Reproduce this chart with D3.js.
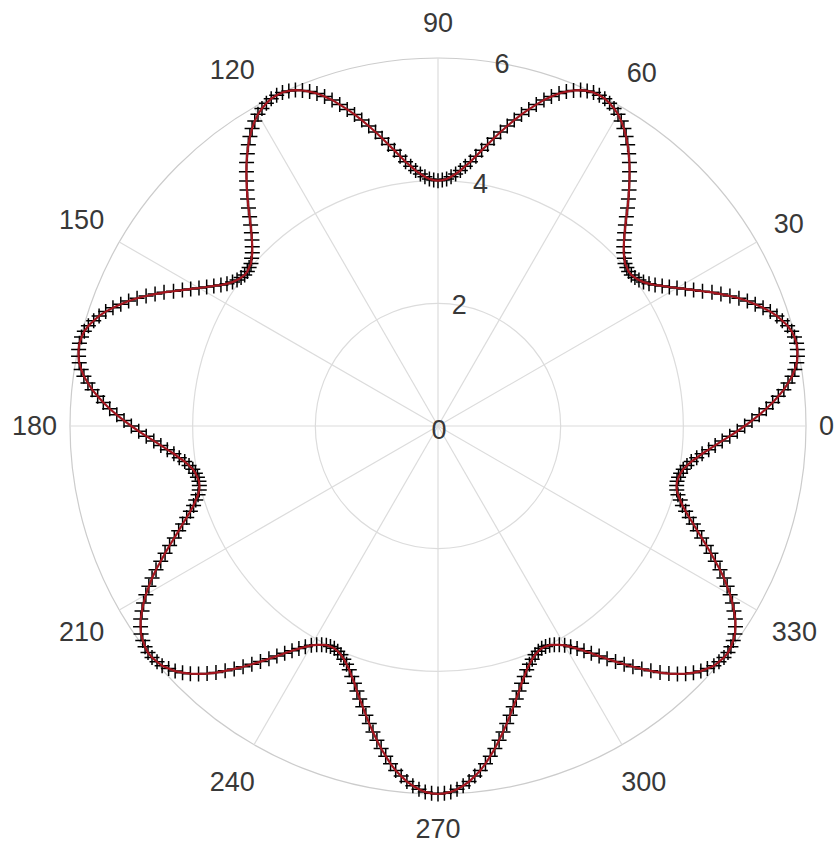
<!DOCTYPE html>
<html>
<head>
<meta charset="utf-8">
<script src="https://cdn.jsdelivr.net/npm/d3@7"></script>
<style>
  body { margin: 0; background: #fff; }
  text { font-family: "Liberation Sans", Arial, sans-serif; fill: #383838; }
</style>
</head>
<body>
<div id="main"></div>
<script>
// angle ticks (degrees) and radial ticks
const thetaTicks = [0, 30, 60, 90, 120, 150, 180, 210, 240, 270, 300, 330];
const rTicks = [0, 2, 4, 6];

// sample angles, one per degree, and the radius read at each one
const thetaDeg = d3.range(0, 360, 1);
const rho = [
  5.00, 5.12, 5.24, 5.36, 5.47, 5.57, 5.67, 5.75, 5.83, 5.89, 5.94, 5.97, 5.99, 6.00, 5.99, 5.97, 5.93, 5.87, 5.81, 5.73,
  5.64, 5.54, 5.44, 5.33, 5.21, 5.09, 4.97, 4.84, 4.72, 4.61, 4.50, 4.40, 4.31, 4.22, 4.15, 4.09, 4.05, 4.02, 4.00, 4.00,
  4.02, 4.04, 4.09, 4.14, 4.21, 4.29, 4.38, 4.48, 4.59, 4.71, 4.83, 4.95, 5.07, 5.19, 5.31, 5.42, 5.53, 5.63, 5.72, 5.80,
  5.87, 5.92, 5.96, 5.99, 6.00, 6.00, 5.98, 5.95, 5.90, 5.84, 5.77, 5.68, 5.59, 5.48, 5.37, 5.26, 5.14, 5.02, 4.90, 4.78,
  4.66, 4.55, 4.44, 4.34, 4.26, 4.18, 4.12, 4.07, 4.03, 4.01, 4.00, 4.01, 4.03, 4.07, 4.12, 4.18, 4.26, 4.34, 4.44, 4.55,
  4.66, 4.78, 4.90, 5.02, 5.14, 5.26, 5.37, 5.48, 5.59, 5.68, 5.77, 5.84, 5.90, 5.95, 5.98, 6.00, 6.00, 5.99, 5.96, 5.92,
  5.87, 5.80, 5.72, 5.63, 5.53, 5.42, 5.31, 5.19, 5.07, 4.95, 4.83, 4.71, 4.59, 4.48, 4.38, 4.29, 4.21, 4.14, 4.09, 4.04,
  4.02, 4.00, 4.00, 4.02, 4.05, 4.09, 4.15, 4.22, 4.31, 4.40, 4.50, 4.61, 4.72, 4.84, 4.97, 5.09, 5.21, 5.33, 5.44, 5.54,
  5.64, 5.73, 5.81, 5.87, 5.93, 5.97, 5.99, 6.00, 5.99, 5.97, 5.94, 5.89, 5.83, 5.75, 5.67, 5.57, 5.47, 5.36, 5.24, 5.12,
  5.00, 4.88, 4.76, 4.64, 4.53, 4.43, 4.33, 4.25, 4.17, 4.11, 4.06, 4.03, 4.01, 4.00, 4.01, 4.03, 4.07, 4.13, 4.19, 4.27,
  4.36, 4.46, 4.56, 4.67, 4.79, 4.91, 5.03, 5.16, 5.28, 5.39, 5.50, 5.60, 5.69, 5.78, 5.85, 5.91, 5.95, 5.98, 6.00, 6.00,
  5.98, 5.96, 5.91, 5.86, 5.79, 5.71, 5.62, 5.52, 5.41, 5.29, 5.17, 5.05, 4.93, 4.81, 4.69, 4.58, 4.47, 4.37, 4.28, 4.20,
  4.13, 4.08, 4.04, 4.01, 4.00, 4.00, 4.02, 4.05, 4.10, 4.16, 4.23, 4.32, 4.41, 4.52, 4.63, 4.74, 4.86, 4.98, 5.10, 5.22,
  5.34, 5.45, 5.56, 5.66, 5.74, 5.82, 5.88, 5.93, 5.97, 5.99, 6.00, 5.99, 5.97, 5.93, 5.88, 5.82, 5.74, 5.66, 5.56, 5.45,
  5.34, 5.22, 5.10, 4.98, 4.86, 4.74, 4.63, 4.52, 4.41, 4.32, 4.23, 4.16, 4.10, 4.05, 4.02, 4.00, 4.00, 4.01, 4.04, 4.08,
  4.13, 4.20, 4.28, 4.37, 4.47, 4.58, 4.69, 4.81, 4.93, 5.05, 5.17, 5.29, 5.41, 5.52, 5.62, 5.71, 5.79, 5.86, 5.91, 5.96,
  5.98, 6.00, 6.00, 5.98, 5.95, 5.91, 5.85, 5.78, 5.69, 5.60, 5.50, 5.39, 5.28, 5.16, 5.03, 4.91, 4.79, 4.67, 4.56, 4.46,
  4.36, 4.27, 4.19, 4.13, 4.07, 4.03, 4.01, 4.00, 4.01, 4.03, 4.06, 4.11, 4.17, 4.25, 4.33, 4.43, 4.53, 4.64, 4.76, 4.88
];

const W = 836, H = 848;
const cx = 438, cy = 426, R = 368;

const svg = d3.select('#main').append('svg')
  .attr('width', W)
  .attr('height', H);

const rScale = d3.scaleLinear().domain([0, 6]).range([0, R]);
const rad = d => d * Math.PI / 180;

const g = svg.append('g').attr('transform', 'translate(' + cx + ',' + cy + ')');

// grid circles
g.selectAll('circle.grid')
  .data(rTicks.filter(d => d > 0))
  .enter()
  .append('circle')
  .attr('class', 'grid')
  .attr('r', d => rScale(d))
  .attr('fill', 'none')
  .attr('stroke', d => d === 6 ? '#cccccc' : '#dcdcdc')
  .attr('stroke-width', 1.2);

// spokes
g.selectAll('line.spoke')
  .data(thetaTicks)
  .enter()
  .append('line')
  .attr('class', 'spoke')
  .attr('x1', 0).attr('y1', 0)
  .attr('x2', d => R * Math.cos(rad(d)))
  .attr('y2', d => -R * Math.sin(rad(d)))
  .attr('stroke', '#dcdcdc')
  .attr('stroke-width', 1.2);

// angle labels
const fs = 27;
const labelOff = (d, w) => 13 + Math.abs(Math.cos(rad(d))) * w / 2 + Math.abs(Math.sin(rad(d))) * 22;
g.selectAll('text.theta')
  .data(thetaTicks)
  .enter()
  .append('text')
  .attr('class', 'theta')
  .attr('font-size', fs)
  .attr('text-anchor', 'middle')
  .attr('dominant-baseline', 'central')
  .text(d => d)
  .attr('x', function (d) { return (R + labelOff(d, this.getComputedTextLength())) * Math.cos(rad(d)); })
  .attr('y', function (d) { return -(R + labelOff(d, this.getComputedTextLength())) * Math.sin(rad(d)); });

// radial tick labels, along 80 degrees
g.selectAll('text.rtick')
  .data(rTicks)
  .enter()
  .append('text')
  .attr('class', 'rtick')
  .attr('font-size', fs)
  .attr('text-anchor', 'middle')
  .attr('dominant-baseline', 'central')
  .attr('x', d => rScale(d) * Math.cos(rad(80)) + (d === 0 ? 1 : 0))
  .attr('y', d => -rScale(d) * Math.sin(rad(80)) + (d === 0 ? 4 : 0))
  .text(d => d);

const pts = thetaDeg.map((t, i) => ({ t: t, r: rho[i] }));

// '+' markers
g.selectAll('path.mk')
  .data(pts)
  .enter()
  .append('path')
  .attr('class', 'mk')
  .attr('transform', d => 'translate(' + (rScale(d.r) * Math.cos(rad(d.t))) + ',' + (-rScale(d.r) * Math.sin(rad(d.t))) + ')')
  .attr('d', 'M-7.5,0H7.5M0,-7.5V7.5')
  .attr('stroke', '#000')
  .attr('stroke-width', 1.5)
  .attr('fill', 'none');

// red line on top
const line = d3.lineRadial()
  .angle(d => Math.PI / 2 - rad(d.t))
  .radius(d => rScale(d.r))
  .curve(d3.curveLinearClosed);

g.append('path')
  .datum(pts)
  .attr('d', line)
  .attr('fill', 'none')
  .attr('stroke', '#a3161f')
  .attr('stroke-width', 2.2);
</script>
</body>
</html>
